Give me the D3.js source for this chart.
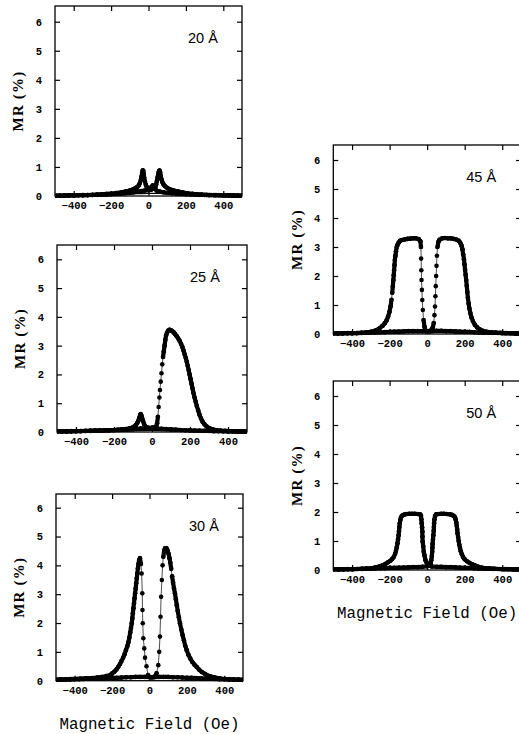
<!DOCTYPE html>
<html><head><meta charset="utf-8">
<script src="https://cdn.jsdelivr.net/npm/d3@7"></script>
<style>body{margin:0;background:#fff}svg{display:block}</style>
</head><body>
<svg id="c" width="519" height="734"></svg>
<script>
// ---------- tick labels ----------
const xTicks = [-400, -200, 0, 200, 400];
const yTicks = [0, 1, 2, 3, 4, 5, 6];
const panelNames = ["20 Å", "25 Å", "30 Å", "45 Å", "50 Å"];

// ---------- data: [field (Oe), MR (%)] ----------
const down20 = [[500,.01],[475,.01],[450,.015],[425,.02],[400,.02],[375,.025],[350,.03],[325,.03],[300,.035],[275,.04],[250,.05],[225,.055],[200,.06],[175,.07],[150,.08],[125,.095],[100,.11],[80,.13],[60,.15],[45,.18],[35,.24],[28,.32],[22,.36],[15,.3],[8,.27],[0,.27],[-8,.3],[-14,.38],[-19,.5],[-23,.63],[-26,.76],[-28,.87],[-31,.88],[-34,.8],[-37,.67],[-41,.55],[-46,.45],[-52,.37],[-60,.31],[-70,.27],[-82,.23],[-100,.19],[-120,.16],[-145,.13],[-175,.1],[-200,.08],[-225,.07],[-250,.06],[-275,.05],[-300,.04],[-325,.035],[-350,.03],[-375,.025],[-400,.02],[-425,.02],[-450,.015],[-475,.01],[-500,.01]];
const up20 = [[-500,.01],[-475,.01],[-450,.015],[-425,.02],[-400,.02],[-375,.025],[-350,.03],[-325,.03],[-300,.035],[-275,.04],[-250,.045],[-225,.05],[-200,.06],[-175,.07],[-150,.08],[-125,.095],[-100,.11],[-80,.13],[-60,.15],[-40,.17],[-20,.19],[0,.2],[15,.22],[28,.26],[36,.3],[41,.4],[45,.52],[49,.65],[53,.77],[56,.85],[59,.88],[62,.82],[65,.7],[69,.58],[74,.48],[80,.4],[88,.34],[100,.28],[115,.23],[135,.19],[160,.15],[185,.12],[210,.09],[235,.075],[260,.06],[285,.05],[310,.04],[335,.035],[360,.03],[385,.025],[410,.02],[435,.02],[460,.015],[480,.01],[500,.01]];
const low20 = [[-500,0],[-300,.01],[-200,.03],[-120,.06],[-60,.08],[0,.09],[60,.09],[120,.07],[200,.04],[300,.01],[500,0]];

const up25 = [[-500,.02],[-475,.02],[-450,.025],[-425,.03],[-400,.03],[-375,.035],[-350,.04],[-325,.04],[-300,.045],[-275,.05],[-250,.055],[-225,.06],[-200,.065],[-175,.07],[-150,.08],[-125,.09],[-100,.1],[-80,.11],[-60,.12],[-40,.13],[-20,.14],[0,.15],[12,.16],[22,.19],[27,.3],[31,.53],[35,.87],[39,1.2],[42,1.46],[46,1.75],[50,2.04],[54,2.35],[58,2.61],[62,2.8],[66,3.0],[70,3.2],[74,3.35],[79,3.45],[85,3.52],[91,3.55],[98,3.54],[106,3.51],[114,3.46],[122,3.4],[130,3.33],[138,3.25],[146,3.16],[153,3.06],[160,2.95],[166,2.83],[172,2.7],[178,2.57],[183,2.44],[188,2.3],[193,2.15],[198,2.0],[203,1.84],[208,1.68],[213,1.52],[218,1.36],[224,1.2],[230,1.05],[236,.9],[243,.75],[250,.6],[258,.47],[266,.36],[276,.27],[288,.19],[303,.13],[320,.09],[340,.06],[360,.05],[385,.04],[410,.03],[435,.025],[460,.02],[480,.02],[500,.015]];
const down25 = [[500,.01],[475,.01],[450,.015],[425,.02],[400,.02],[375,.025],[350,.03],[325,.03],[300,.035],[275,.04],[250,.045],[225,.05],[200,.055],[175,.06],[150,.07],[125,.08],[100,.09],[75,.1],[50,.11],[25,.12],[0,.13],[-15,.14],[-28,.16],[-36,.2],[-42,.28],[-47,.38],[-52,.48],[-56,.57],[-59,.62],[-62,.6],[-66,.5],[-71,.4],[-77,.32],[-84,.25],[-93,.19],[-105,.15],[-120,.12],[-140,.1],[-160,.09],[-180,.08],[-200,.07],[-225,.06],[-250,.055],[-275,.05],[-300,.045],[-325,.04],[-350,.035],[-375,.03],[-400,.03],[-425,.025],[-450,.02],[-475,.02],[-500,.02]];
const low25 = [[-500,0],[-300,.01],[-200,.02],[-100,.05],[0,.06],[100,.05],[200,.02],[300,.01],[500,0]];

const down30 = [[500,.03],[475,.035],[450,.04],[425,.045],[400,.05],[375,.055],[350,.06],[325,.07],[300,.075],[275,.08],[250,.09],[225,.1],[200,.1],[175,.11],[150,.12],[125,.12],[100,.13],[75,.13],[50,.13],[25,.12],[10,.12],[0,.13],[-8,.2],[-16,.5],[-24,.8],[-28,1.12],[-33,1.47],[-36,1.99],[-37.5,2.45],[-38.5,3.03],[-42,3.72],[-46,4.05],[-51,4.25],[-55,4.18],[-59,4.05],[-62,3.9],[-65,3.72],[-68,3.55],[-71,3.38],[-74,3.2],[-77,3.03],[-80,2.86],[-83,2.69],[-86,2.51],[-89,2.34],[-92,2.16],[-95,1.99],[-99,1.83],[-103,1.67],[-108,1.49],[-113,1.33],[-119,1.19],[-126,1.06],[-133,.92],[-141,.8],[-150,.68],[-158,.58],[-167,.48],[-177,.39],[-188,.31],[-200,.25],[-211,.2],[-230,.16],[-255,.13],[-280,.11],[-310,.09],[-340,.08],[-370,.07],[-400,.06],[-425,.055],[-450,.05],[-475,.045],[-500,.04]];
const up30 = [[-500,.03],[-475,.035],[-450,.04],[-425,.045],[-400,.05],[-375,.055],[-350,.06],[-325,.065],[-300,.07],[-275,.075],[-250,.08],[-225,.09],[-200,.1],[-175,.1],[-150,.11],[-125,.12],[-100,.12],[-75,.13],[-50,.13],[-25,.13],[0,.12],[15,.12],[28,.14],[38,.26],[47,.54],[52,1.0],[56,1.53],[59,2.22],[62,2.91],[66,3.49],[70,4.0],[74,4.3],[78,4.5],[83,4.59],[90,4.6],[96,4.52],[102,4.4],[107,4.25],[111,4.1],[116,3.88],[121,3.62],[126,3.4],[131,3.2],[136,3.03],[141,2.82],[146,2.62],[151,2.42],[157,2.2],[163,1.99],[170,1.78],[177,1.58],[184,1.4],[191,1.22],[199,1.06],[208,.9],[218,.77],[229,.65],[240,.56],[252,.48],[266,.38],[280,.3],[295,.24],[306,.2],[325,.15],[350,.11],[375,.08],[400,.06],[425,.05],[450,.04],[475,.035],[500,.03]];
const low30 = [[-500,0],[-300,.02],[-200,.05],[-100,.1],[-40,.14],[20,.16],[80,.14],[150,.1],[250,.04],[350,.01],[500,0]];

const down45 = [[500,.02],[475,.02],[450,.025],[425,.03],[400,.03],[375,.035],[350,.04],[325,.045],[300,.05],[275,.055],[250,.06],[225,.07],[200,.075],[175,.08],[150,.09],[125,.1],[100,.1],[75,.11],[50,.11],[25,.1],[10,.1],[-8,.1],[-14,.25],[-19,.48],[-23,.83],[-26,1.17],[-28,1.52],[-30,1.86],[-31,2.2],[-32,2.6],[-33,3.0],[-36,3.2],[-45,3.27],[-60,3.3],[-75,3.3],[-90,3.29],[-105,3.28],[-120,3.26],[-135,3.24],[-145,3.21],[-152,3.15],[-158,3.07],[-162,3.0],[-166,2.85],[-169,2.7],[-172,2.55],[-174,2.38],[-176,2.2],[-178,2.03],[-180,1.86],[-183,1.64],[-186,1.42],[-190,1.18],[-195,.95],[-201,.76],[-208,.6],[-216,.47],[-226,.37],[-238,.28],[-253,.2],[-272,.13],[-297,.08],[-325,.05],[-350,.04],[-375,.03],[-400,.03],[-425,.025],[-450,.02],[-475,.02],[-500,.02]];
const up45 = [[-500,.02],[-475,.02],[-450,.025],[-425,.03],[-400,.03],[-375,.035],[-350,.04],[-325,.045],[-300,.05],[-275,.055],[-250,.06],[-225,.065],[-200,.07],[-175,.08],[-150,.085],[-125,.09],[-100,.1],[-75,.1],[-50,.1],[-25,.1],[0,.1],[15,.1],[24,.15],[30,.22],[35,.38],[39,.65],[42,.95],[44,1.3],[46,1.65],[48,2.0],[50,2.35],[52,2.7],[55,3.0],[60,3.18],[66,3.25],[80,3.3],[95,3.31],[110,3.3],[125,3.3],[140,3.28],[155,3.26],[167,3.22],[176,3.15],[183,3.05],[188,2.92],[192,2.75],[196,2.58],[199,2.4],[202,2.22],[205,2.04],[208,1.86],[211,1.66],[214,1.45],[217,1.25],[221,1.05],[225,.88],[230,.72],[236,.57],[244,.44],[254,.32],[266,.23],[280,.16],[297,.11],[315,.08],[340,.06],[365,.05],[390,.04],[415,.03],[440,.025],[465,.02],[485,.02],[500,.02]];
const low45 = [[-500,0],[-300,.01],[-150,.04],[-60,.09],[0,.12],[60,.1],[150,.05],[300,.01],[500,0]];

const down50 = [[500,.02],[475,.02],[450,.025],[425,.03],[400,.03],[375,.035],[350,.04],[325,.045],[300,.05],[275,.055],[250,.06],[225,.07],[200,.075],[175,.08],[150,.09],[125,.1],[100,.1],[75,.11],[50,.11],[25,.12],[12,.15],[5,.2],[-3,.26],[-9,.34],[-14,.5],[-18,.63],[-21,.82],[-24,.98],[-25,1.15],[-25.5,1.32],[-27,1.47],[-29,1.61],[-31,1.75],[-33,1.88],[-38,1.92],[-50,1.93],[-65,1.94],[-80,1.94],[-95,1.94],[-110,1.93],[-122,1.91],[-132,1.88],[-139,1.82],[-143,1.72],[-146,1.61],[-148,1.48],[-150,1.34],[-152,1.2],[-155,1.06],[-158,.92],[-162,.78],[-166,.66],[-171,.55],[-178,.45],[-186,.38],[-196,.32],[-208,.27],[-222,.21],[-238,.16],[-255,.12],[-275,.09],[-296,.06],[-320,.05],[-345,.04],[-370,.035],[-395,.03],[-420,.025],[-445,.02],[-470,.02],[-500,.02]];
const up50 = [[-500,.02],[-475,.02],[-450,.025],[-425,.03],[-400,.03],[-375,.035],[-350,.04],[-325,.045],[-300,.05],[-275,.055],[-250,.06],[-225,.065],[-200,.07],[-175,.075],[-150,.08],[-125,.085],[-100,.09],[-75,.1],[-50,.1],[-25,.11],[0,.13],[12,.17],[18,.22],[22,.34],[25,.48],[27,.63],[28,.77],[29,.9],[31,1.05],[33,1.2],[35,1.35],[36,1.48],[37,1.61],[39,1.75],[42,1.86],[48,1.92],[60,1.93],[75,1.94],[90,1.94],[105,1.93],[120,1.92],[132,1.9],[141,1.87],[148,1.82],[152,1.74],[155,1.64],[158,1.52],[160,1.4],[162,1.27],[165,1.14],[168,1.0],[171,.88],[175,.76],[179,.65],[185,.54],[192,.44],[200,.37],[212,.3],[225,.25],[240,.2],[256,.15],[273,.11],[292,.08],[311,.06],[335,.05],[360,.04],[385,.035],[410,.03],[435,.025],[460,.02],[480,.02],[500,.02]];
const low50 = [[-500,0],[-300,.01],[-150,.04],[-50,.08],[20,.1],[80,.09],[180,.04],[300,.01],[500,0]];

// ---------- layout ----------
const panels = [
  {name: panelNames[0], L: 55,    R: 242, T: 6,   B: 196,   y6: 21.7,  curves: [down20, up20], low: low20, xlabel: false},
  {name: panelNames[1], L: 57,    R: 247, T: 245, B: 432,   y6: 259.3, curves: [down25, up25], low: low25, xlabel: false},
  {name: panelNames[2], L: 56,    R: 243, T: 494, B: 680.7, y6: 507.7, curves: [down30, up30], low: low30, xlabel: true},
  {name: panelNames[3], L: 333.3, R: 521, T: 145, B: 334,   y6: 160,   curves: [down45, up45], low: low45, xlabel: false},
  {name: panelNames[4], L: 333.3, R: 521, T: 381, B: 570,   y6: 396,   curves: [down50, up50], low: low50, xlabel: true}
];

const svg = d3.select("#c");
const monoFont = "'Liberation Mono', 'DejaVu Sans Mono', monospace";
const serifFont = "'Liberation Serif', 'DejaVu Serif', serif";

panels.forEach((p, i) => {
  const x = d3.scaleLinear().domain([-500, 500]).range([p.L, p.R]);
  const y = d3.scaleLinear().domain([0, 6]).range([p.B, p.y6]);
  const g = svg.append("g");

  const clipId = "clip" + i;
  svg.append("clipPath").attr("id", clipId).append("rect")
    .attr("x", p.L).attr("y", p.T).attr("width", p.R - p.L).attr("height", p.B - p.T + 2);

  // frame
  g.append("rect").attr("x", p.L).attr("y", p.T).attr("width", p.R - p.L).attr("height", p.B - p.T)
    .attr("fill", "none").attr("stroke", "#000").attr("stroke-width", 1.3);

  // axes via d3 (inward ticks)
  const axL = d3.axisLeft(y).tickValues(yTicks).tickSize(-5).tickPadding(13).tickFormat(d3.format("d"));
  const axR = d3.axisRight(y).tickValues(yTicks).tickSize(-5).tickFormat("");
  const axB = d3.axisBottom(x).tickValues(xTicks).tickSize(-5).tickPadding(6).tickFormat(d3.format("d"));
  const axT = d3.axisTop(x).tickValues(xTicks).tickSize(-5).tickFormat("");
  [[axL, `translate(${p.L},0)`], [axR, `translate(${p.R},0)`], [axB, `translate(0,${p.B})`], [axT, `translate(0,${p.T})`]]
    .forEach(([ax, tr]) => {
      const a = g.append("g").attr("transform", tr).call(ax);
      a.select(".domain").remove();
      a.selectAll("line").attr("stroke", "#000").attr("stroke-width", 1.2);
      a.selectAll("text").attr("fill", "#000").attr("font-family", monoFont)
        .attr("font-weight", "bold").attr("font-size", 10.5);
    });

  // curves
  const cg = g.append("g").attr("clip-path", `url(#${clipId})`);
  const lowLine = d3.line().x(d => x(d[0])).y(d => y(d[1])).curve(d3.curveMonotoneX);
  cg.append("path").attr("d", lowLine(p.low)).attr("fill", "none").attr("stroke", "#000").attr("stroke-width", 1.3);

  p.curves.forEach(data => {
    const segs = d3.pairs(data).map(([a, b]) => {
      const x0 = x(a[0]), y0 = y(a[1]), x1 = x(b[0]), y1 = y(b[1]);
      return {x0, y0, x1, y1, len: Math.hypot(x1 - x0, y1 - y0)};
    });
    cg.selectAll(null).data(segs).join("line")
      .attr("x1", d => d.x0).attr("y1", d => d.y0).attr("x2", d => d.x1).attr("y2", d => d.y1)
      .attr("stroke", "#000").attr("stroke-linecap", "round")
      .attr("stroke-width", d => d.len < 7 ? 4.2 : 0.7);
    cg.selectAll(null).data(data).join("circle")
      .attr("cx", d => x(d[0])).attr("cy", d => y(d[1])).attr("r", 2.3).attr("fill", "#000");
  });

  // panel label
  g.append("text").attr("x", p.L + 133).attr("y", p.T + 37)
    .attr("font-family", "'Liberation Sans', Arial, sans-serif").attr("font-size", 14.5)
    .attr("fill", "#000").text(p.name);

  // y axis label
  const cy = (p.T + p.B) / 2;
  const lx = p.L - 37;
  g.append("text").attr("transform", `translate(${lx},${cy}) rotate(-90)`)
    .attr("text-anchor", "middle").attr("dy", "0.35em")
    .attr("font-family", serifFont).attr("font-weight", "bold").attr("font-size", 15)
    .attr("letter-spacing", 1.2)
    .attr("fill", "#000").text("MR (%)");

  if (p.xlabel) {
    g.append("text").attr("x", (p.L + p.R) / 2).attr("y", p.B + 48)
      .attr("text-anchor", "middle")
      .attr("font-family", monoFont).attr("font-size", 15.8)
      .attr("fill", "#000").text("Magnetic Field (Oe)");
  }
});
</script>
</body></html>
